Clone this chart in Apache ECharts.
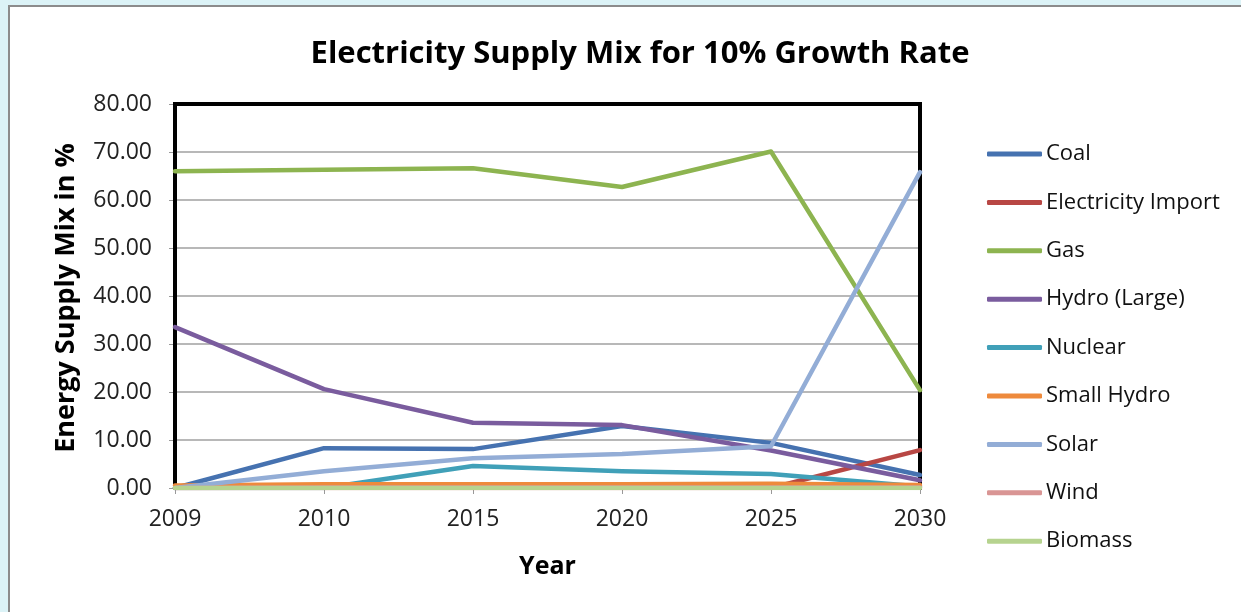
<!DOCTYPE html>
<html>
<head>
<meta charset="utf-8">
<script src="https://cdn.jsdelivr.net/npm/echarts@6/dist/echarts.min.js"></script>
<style>
html,body{margin:0;padding:0;background:#fff;}
#c{width:1241px;height:612px;}
</style>
</head>
<body>
<div id="c"></div>
<script>
const years = ['2009','2010','2015','2020','2025','2030'];
const coal = [0, 8.3, 8.1, 12.9, 9.4, 2.7];
const electricityImport = [0, 0, 0, 0, 0, 7.9];
const gas = [66.0, 66.3, 66.6, 62.7, 70.1, 20.4];
const hydroLarge = [33.5, 20.6, 13.6, 13.1, 7.8, 1.6];
const nuclear = [0, 0, 4.6, 3.5, 2.9, 0.3];
const smallHydro = [0.5, 0.8, 0.8, 0.8, 0.9, 0.6];
const solar = [0, 3.5, 6.2, 7.1, 8.7, 65.8];
const wind = [0, 0.1, 0.1, 0.1, 0.1, 0.1];
const biomass = [0, 0, 0, 0, 0, 0];
const yTicks = [0, 10, 20, 30, 40, 50, 60, 70, 80];

const seriesDefs = [
  ['Coal', coal, '#4672b0'],
  ['Electricity Import', electricityImport, '#b84744'],
  ['Gas', gas, '#8db450'],
  ['Hydro (Large)', hydroLarge, '#7a5c9e'],
  ['Nuclear', nuclear, '#40a0b8'],
  ['Small Hydro', smallHydro, '#ee8a3c'],
  ['Solar', solar, '#93add6'],
  ['Wind', wind, '#d99594'],
  ['Biomass', biomass, '#b6d38f']
];

const FONT = '"Open Sans", Lato, sans-serif';
const chart = echarts.init(document.getElementById('c'), null, {renderer:'canvas'});
chart.setOption({
  animation: false,
  backgroundColor: '#ffffff',
  textStyle: {fontFamily: FONT},
  title: {
    text: 'Electricity Supply Mix for 10% Growth Rate',
    left: 635, top: 34, textAlign: 'center',
    textStyle: {fontFamily: FONT, fontSize: 31, fontWeight: 'bold', color: '#000'}
  },
  grid: {left: 175, top: 104, width: 745, height: 384, containLabel: false},
  legend: {
    orient: 'vertical', left: 987, top: 143, padding: 0,
    itemWidth: 55, itemHeight: 5, itemGap: 26.4,
    icon: 'roundRect',
    textStyle: {fontFamily: FONT, fontSize: 22, color: '#111', padding: [0,0,0,-1]},
    data: seriesDefs.map(d => d[0])
  },
  xAxis: {
    type: 'category', data: years, boundaryGap: false,
    axisLine: {show: true, lineStyle: {color: '#999', width: 1}},
    axisTick: {show: true, length: 6, lineStyle: {color: '#999'}},
    axisLabel: {fontFamily: FONT, fontSize: 23, color: '#222', margin: 20},
    splitLine: {show: false},
    name: 'Year', nameLocation: 'middle', nameGap: 66,
    nameTextStyle: {fontFamily: FONT, fontSize: 25, fontWeight: 'bold', color: '#000'}
  },
  yAxis: {
    type: 'value', min: 0, max: 80, interval: 10,
    axisLine: {show: false},
    axisTick: {show: true, length: 6, lineStyle: {color: '#999'}},
    axisLabel: {fontFamily: FONT, fontSize: 23, color: '#222', margin: 23,
      formatter: v => yTicks.includes(v) ? v.toFixed(2) : ''},
    splitLine: {show: true, lineStyle: {color: '#a0a0a0', width: 1.5}}
  },
  graphic: [
    {type: 'rect', shape: {x: 0, y: 0, width: 1241, height: 5}, style: {fill: '#dcf3f7'}, z: 100},
    {type: 'rect', shape: {x: 0, y: 0, width: 8, height: 612}, style: {fill: '#dcf3f7'}, z: 100},
    {type: 'rect', shape: {x: 8, y: 5, width: 1233, height: 2}, style: {fill: '#8c8c8c'}, z: 100},
    {type: 'rect', shape: {x: 8, y: 5, width: 2, height: 607}, style: {fill: '#8c8c8c'}, z: 100},
    {type: 'rect', shape: {x: 175, y: 104, width: 745, height: 384}, style: {fill: 'none', stroke: '#000', lineWidth: 4}, z: 1},
    {type: 'text', x: 66, y: 298, rotation: Math.PI/2,
      style: {text: 'Energy Supply Mix in %', font: 'bold 27px ' + FONT, fill: '#000', textAlign: 'center', textVerticalAlign: 'middle'}, z: 10}
  ],
  series: seriesDefs.map(d => ({
    name: d[0], type: 'line', data: d[1], symbol: 'none', z: 3,
    lineStyle: {color: d[2], width: 4.5, cap: 'round', join: 'round'},
    itemStyle: {color: d[2]}
  }))
});
</script>
</body>
</html>
